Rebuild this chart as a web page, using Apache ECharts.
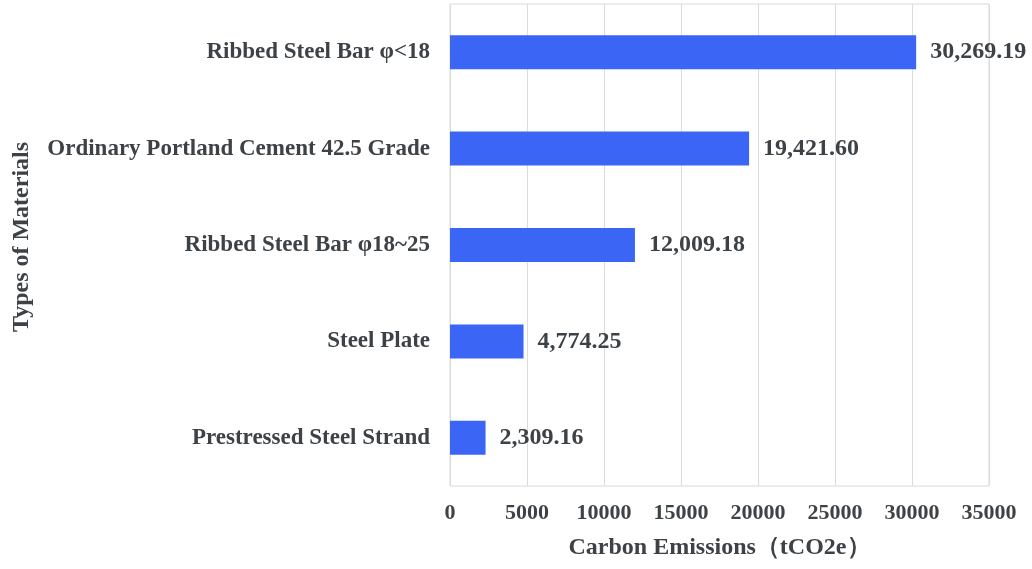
<!DOCTYPE html>
<html>
<head>
<meta charset="utf-8">
<script src="https://cdn.jsdelivr.net/npm/echarts@6/dist/echarts.min.js"></script>
<style>
html,body{margin:0;padding:0;background:#fff;}
#chart{width:1032px;height:569px;}
</style>
</head>
<body>
<div id="chart"></div>
<script>
const categories = [
  "Prestressed Steel Strand",
  "Steel Plate",
  "Ribbed Steel Bar φ18~25",
  "Ordinary Portland Cement 42.5 Grade",
  "Ribbed Steel Bar φ<18"
];
const values = [2309.16, 4774.25, 12009.18, 19421.60, 30269.19];
const xTicks = { min: 0, max: 35000, interval: 5000 };

const textColor = '#3d4246';
const font = '"Liberation Serif", "DejaVu Serif", serif';

function fmt(v) {
  return v.toLocaleString('en-US', { minimumFractionDigits: 2, maximumFractionDigits: 2 });
}

const chart = echarts.init(document.getElementById('chart'), null, { renderer: 'canvas' });
chart.setOption({
  backgroundColor: '#ffffff',
  animation: false,
  grid: { left: 450, right: 43, top: 4, bottom: 83, show: true, borderColor: '#d9d9d9', borderWidth: 1, outerBoundsMode: 'none', containLabel: false },
  xAxis: {
    type: 'value',
    min: xTicks.min, max: xTicks.max, interval: xTicks.interval,
    name: 'Carbon Emissions（tCO2e）',
    nameLocation: 'middle',
    nameGap: 50,
    nameTextStyle: { fontFamily: font, fontWeight: 'bold', fontSize: 24, color: textColor },
    axisLine: { show: false },
    axisTick: { show: false },
    axisLabel: { fontFamily: font, fontWeight: 'bold', fontSize: 22, color: textColor, margin: 16, formatter: v => String(v) },
    splitLine: { show: true, lineStyle: { color: '#dcdcdc', width: 1 } }
  },
  yAxis: {
    type: 'category',
    data: categories,
    name: 'Types of Materials',
    nameLocation: 'middle',
    nameGap: 416,
    nameRotate: 90,
    nameTextStyle: { fontFamily: font, fontWeight: 'bold', fontSize: 24, color: textColor, padding: [0, 0, 0, 16] },
    axisLine: { show: false },
    axisTick: { show: false },
    axisLabel: { fontFamily: font, fontWeight: 'bold', fontSize: 23, color: textColor, margin: 20 },
    splitLine: { show: false }
  },
  series: [{
    type: 'bar',
    data: values,
    barWidth: 34,
    itemStyle: { color: '#3b66f5' },
    label: {
      show: true,
      position: 'right',
      distance: 14,
      fontFamily: font,
      fontWeight: 'bold',
      fontSize: 24,
      color: textColor,
      formatter: p => fmt(p.value)
    }
  }]
});
</script>
</body>
</html>
